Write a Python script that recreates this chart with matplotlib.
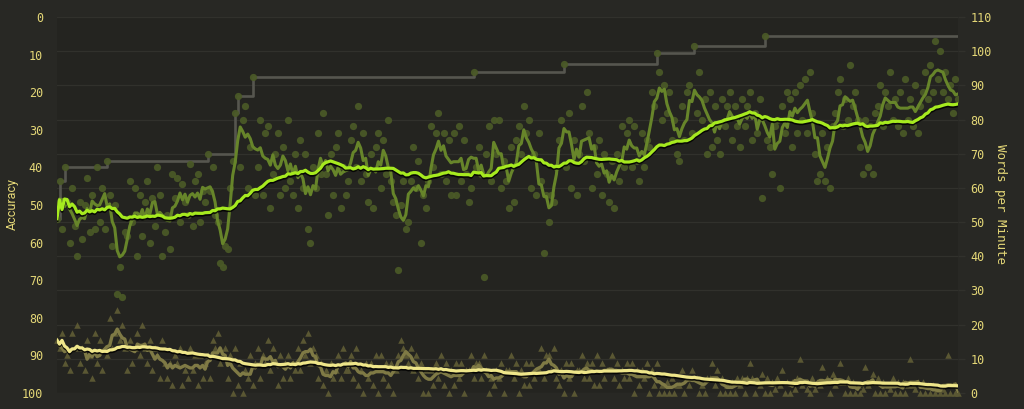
import matplotlib
matplotlib.use('Agg')
import matplotlib.pyplot as plt
import matplotlib.patheffects as pe
import numpy as np
import pandas as pd

# words per minute, one value per test
wpm = [
    51, 62, 48, 66, 56, 44, 60, 49, 40, 56, 45, 55, 63, 47, 58, 48,
    66, 50, 60, 48, 68, 58, 43, 55, 29, 37, 28, 47, 46, 62, 50, 60,
    40, 58, 46, 56, 62, 44, 57, 49, 66, 58, 40, 47, 52, 42, 64, 57,
    63, 50, 61, 56, 52, 67, 49, 62, 64, 50, 59, 56, 70, 59, 66, 52,
    50, 38, 37, 43, 42, 60, 68, 82, 87, 66, 80, 84, 60, 72, 92.5, 58,
    66, 80, 58, 76, 78, 54, 64, 70, 76, 58, 72, 60, 80, 62, 58, 70,
    54, 74, 60, 70, 48, 44, 66, 60, 76, 64, 82, 64, 52, 70, 58, 72,
    76, 54, 66, 58, 62, 74, 78, 66, 84, 62, 76, 64, 56, 70, 54, 72,
    76, 60, 74, 64, 80, 62, 56, 52, 36, 55, 62, 48, 50, 62, 72, 60,
    68, 44, 58, 54, 62, 78, 66, 76, 82, 64, 76, 62, 74, 58, 76, 58,
    78, 62, 74, 64, 56, 60, 94, 66, 72, 64, 34, 70, 78, 62, 80, 70,
    80, 60, 68, 62, 54, 72, 56, 74, 78, 70, 84, 76, 80, 60, 70, 58,
    76, 62, 41, 58, 50, 58, 56, 66, 74, 80, 96.3, 66, 82, 60, 74, 58,
    70, 84, 68, 88, 76, 60, 72, 64, 74, 58, 70, 64, 56, 68, 54, 70,
    62, 78, 66, 76, 80, 66, 78, 68, 62, 76, 66, 74, 72, 88, 84, 99.4,
    94, 80, 90, 82, 88, 74, 80, 70, 68, 84, 74, 88, 90, 76, 101.5, 82,
    94, 80, 86, 70, 88, 72, 84, 74, 70, 86, 78, 84, 88, 74, 84, 78,
    72, 86, 78, 84, 88, 74, 82, 76, 86, 57, 104.4, 74, 72, 64, 78, 80,
    60, 84, 76, 88, 86, 72, 88, 76, 90, 80, 92, 76, 94, 82, 70, 62,
    64, 76, 62, 72, 60, 78, 82, 88, 92, 78, 86, 80, 96, 84, 88, 80,
    72, 64, 80, 66, 78, 64, 82, 84, 90, 78, 88, 84, 94, 80, 86, 78,
    88, 76, 92, 80, 86, 78, 90, 76, 84, 88, 94, 86, 96, 88, 103, 92,
    100, 88, 94, 86, 90, 82, 92, 86,
]

# accuracy in percent, same tests
acc = [
    86, 88, 84, 92, 90, 94, 84, 88, 82, 92, 88, 94, 86, 90, 96, 84,
    92, 86, 94, 88, 90, 80, 88, 84, 78, 86, 82, 88, 94, 86, 92, 88,
    84, 90, 82, 88, 92, 86, 94, 88, 90, 96, 86, 92, 96, 92, 98, 90,
    92, 88, 98, 94, 96, 88, 94, 90, 98, 90, 96, 92, 90, 96, 86, 88,
    84, 92, 90, 88, 96, 90, 100, 88, 98, 92, 100, 94, 96, 90, 98, 92,
    88, 96, 90, 92, 86, 94, 88, 92, 98, 90, 96, 92, 90, 96, 92, 94,
    88, 94, 86, 90, 84, 92, 88, 90, 96, 92, 98, 94, 100, 92, 96, 94,
    90, 96, 88, 94, 94, 90, 96, 88, 98, 94, 100, 92, 96, 92, 98, 90,
    100, 90, 96, 92, 98, 92, 100, 94, 90, 86, 88, 90, 92, 88, 94, 90,
    96, 92, 100, 94, 100, 94, 98, 92, 96, 90, 98, 92, 100, 94, 98, 92,
    96, 92, 100, 94, 94, 90, 96, 92, 92, 96, 90, 94, 100, 96, 98, 94,
    96, 92, 100, 94, 94, 90, 96, 92, 100, 94, 98, 92, 98, 92, 96, 94,
    94, 88, 96, 90, 90, 94, 88, 96, 98, 94, 100, 92, 96, 92, 100, 94,
    94, 90, 96, 92, 96, 92, 98, 90, 98, 92, 96, 94, 94, 90, 96, 92,
    98, 94, 96, 92, 96, 92, 100, 94, 98, 94, 96, 92, 100, 94, 98, 92,
    100, 98, 100, 97, 100, 96, 100, 98, 98, 94, 100, 96, 98, 94, 96, 96,
    100, 98, 100, 96, 96, 92, 98, 94, 100, 96, 100, 98, 100, 97, 100, 96,
    98, 96, 100, 96, 92, 96, 100, 97, 98, 95, 100, 96, 100, 97, 99, 96,
    98, 94, 100, 97, 100, 97, 99, 96, 91, 98, 97, 99, 100, 96, 99, 97,
    98, 93, 97, 96, 100, 95, 98, 97, 92, 97, 100, 96, 100, 97, 100, 98,
    100, 99, 93, 98, 97, 95, 100, 96, 100, 97, 100, 98, 99, 96, 100, 97,
    100, 97, 100, 98, 91, 98, 99, 97, 100, 97, 100, 98, 100, 98, 100, 99,
    100, 99, 100, 90, 100, 98, 100, 100,
]

wpm_ticks = list(range(0, 111, 10))
acc_ticks = list(range(0, 101, 10))

BG = '#282824'
PLOT_BG = '#242420'
GRID = '#31312c'
TXT = '#e4d777'

games = np.arange(len(wpm))
wpm_s = pd.Series(wpm, dtype=float)
acc_s = pd.Series(acc, dtype=float)
wpm_short = wpm_s.rolling(6, center=True, min_periods=1).mean()
wpm_long = wpm_s.rolling(40, min_periods=1).mean()
acc_short = acc_s.rolling(6, center=True, min_periods=1).mean()
acc_long = acc_s.rolling(40, min_periods=1).mean()
best = wpm_s.cummax()

shadow = [pe.SimpleLineShadow(offset=(0, -1.2), shadow_color='black', alpha=0.85), pe.Normal()]

fig = plt.figure(figsize=(10.24, 4.09), dpi=100, facecolor=BG)
ax = fig.add_axes([57 / 1024, 16 / 409, 901 / 1024, 376 / 409])
ax.set_facecolor(PLOT_BG)
ax2 = ax.twinx()   # accuracy, left side

# wpm side (right axis)
ax.set_xlim(0, len(wpm) - 1)
ax.set_ylim(0, 110)
ax.set_yticks(wpm_ticks)
ax.set_xticks([])
ax.yaxis.tick_right()
ax.grid(axis='y', color=GRID, lw=0.9)
ax.set_axisbelow(True)
ax.tick_params(axis='y', colors=GRID, labelcolor=TXT, length=5, width=0.9, pad=4, labelsize=8.5)
for s in ax.spines.values():
    s.set_visible(False)
for lab in ax.get_yticklabels():
    lab.set_family('DejaVu Sans Mono')

ax.plot(games, best, drawstyle='steps-post', color='#56564f', lw=1.9, zorder=2)
ax.scatter(games, wpm, s=27, color='#4b5a27', alpha=0.92, lw=0, zorder=3)
ax.plot(games, wpm_short, color='#67852a', lw=2.2, zorder=4)
ax.plot(games, wpm_long, color='#a6ea1f', lw=2.3, zorder=5, path_effects=shadow)

# accuracy side (left axis, inverted)
ax2.set_ylim(100, 0)
ax2.set_yticks(acc_ticks)
ax2.yaxis.tick_left()
ax2.tick_params(axis='y', length=0, labelcolor=TXT, pad=10, labelsize=8.5)
for s in ax2.spines.values():
    s.set_visible(False)
for lab in ax2.get_yticklabels():
    lab.set_family('DejaVu Sans Mono')

ax2.scatter(games, acc, marker='^', s=22, color='#5a5733', lw=0, zorder=3, clip_on=False)
ax2.plot(games, acc_short, color='#7f7a45', lw=2.4, zorder=4)
ax2.plot(games, acc_long, color='#efe68a', lw=2.3, zorder=5, path_effects=shadow)

fig.text(12 / 1024, 0.5, 'Accuracy', rotation=90, color=TXT, fontsize=9,
         family='Roboto', ha='center', va='center')
fig.text(1001 / 1024, 0.5, 'Words per Minute', rotation=270, color=TXT, fontsize=9,
         family='DejaVu Sans Mono', ha='center', va='center')

fig.savefig('out.png', dpi=100, facecolor=BG)
